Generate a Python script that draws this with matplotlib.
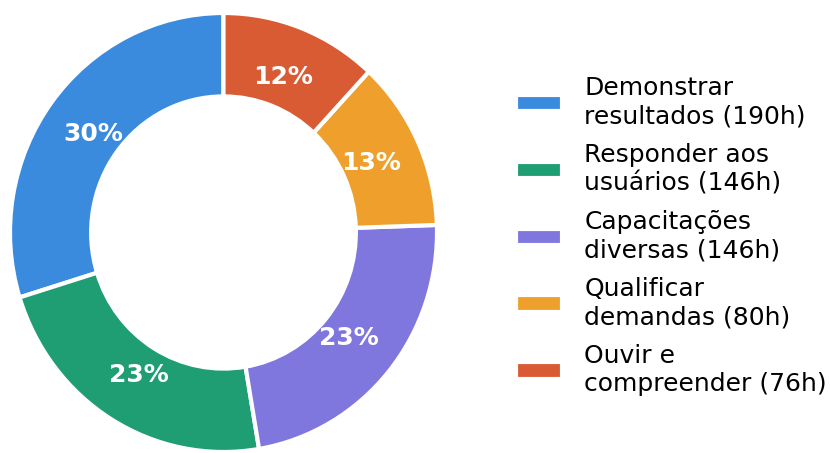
import matplotlib.pyplot as plt

# === data ===
labels = ["Demonstrar\nresultados (190h)", "Responder aos\nusuários (146h)",
          "Capacitações\ndiversas (146h)", "Qualificar\ndemandas (80h)",
          "Ouvir e\ncompreender (76h)"]
hours = [190, 146, 146, 80, 76]
colors = ["#3A8BDE", "#1F9E74", "#8077DE", "#EFA02C", "#D95B33"]

fig = plt.figure(figsize=(8.3, 4.53), dpi=100)
ax = fig.add_axes([10 / 830, 1 / 453, 427 / 830, 439 / 453])

wedges, texts, autotexts = ax.pie(
    hours, colors=colors, startangle=90, counterclock=True,
    autopct="%1.0f%%", pctdistance=0.76,
    wedgeprops=dict(width=0.38, edgecolor="white", linewidth=3),
    textprops=dict(color="white", fontsize=18, fontweight="bold"))
ax.set_aspect("auto")
ax.set_xlim(-1, 1)
ax.set_ylim(-1, 1)
for w in wedges:
    w.set_clip_on(False)

# legend to the right of the donut
leg = fig.legend(wedges, labels, loc="center left",
                 bbox_to_anchor=(493 / 830, 217 / 453),
                 frameon=False, fontsize=18, handlelength=1.85,
                 handleheight=0.62, handletextpad=0.9, labelspacing=0.58)
for t in leg.get_texts():
    t.set_linespacing(1.23)

fig.savefig("out.png", dpi=100)
